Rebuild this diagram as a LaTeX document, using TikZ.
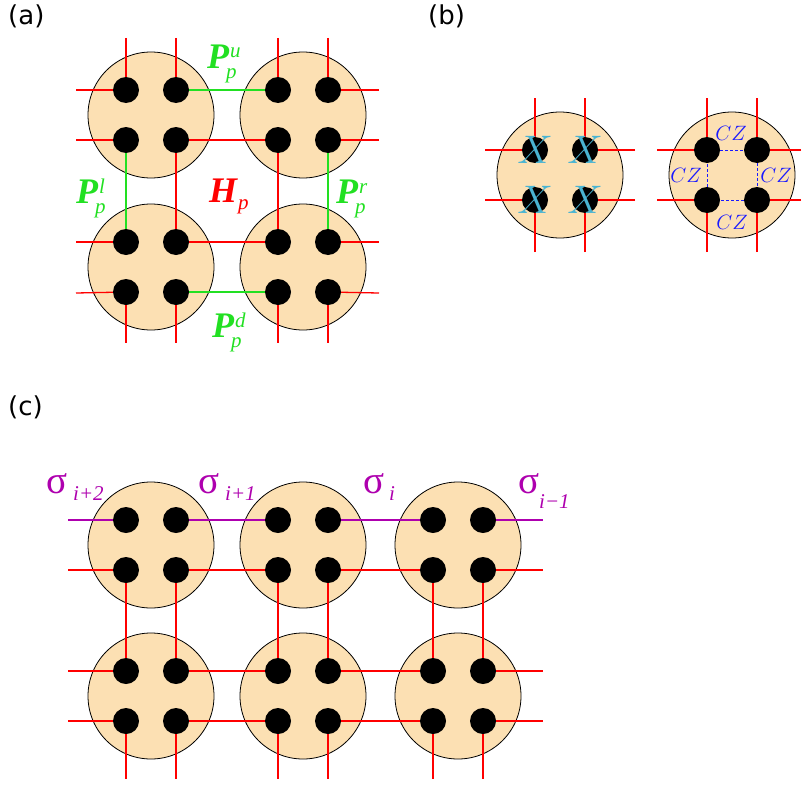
\documentclass[tikz,border=0pt]{standalone}
\usepackage{graphicx}
\usepackage{fontspec}
\setmainfont{Liberation Serif}
\setsansfont{DejaVu Sans}
\definecolor{QDisk}{HTML}{FCE0B3}
\definecolor{QGreen}{HTML}{22E022}
\definecolor{QPurple}{HTML}{AE00AE}
\definecolor{QCyan}{HTML}{4AB4D2}
\definecolor{QBlue}{HTML}{1A1AFF}
\newcommand{\qsmall}{\fontsize{21}{21}\selectfont}
\newcommand{\qsub}{\fontsize{21}{21}\selectfont\itshape}
% big letter with upper and lower index
\newcommand{\qlab}[3]{#1\rlap{\kern1pt\raisebox{10pt}{\qsmall\mdseries #2}}\kern-3pt\raisebox{-10pt}{\qsmall\mdseries #3}}
% one site: disk with four qubits
\newcommand{\qcluster}[3]{%
  \node[qdisk] (#1) at (#2,#3) {};
  \node[qdot] (#1-1) at (#2-25,#3-25) {};
  \node[qdot] (#1-2) at (#2+25,#3-25) {};
  \node[qdot] (#1-3) at (#2-25,#3+25) {};
  \node[qdot] (#1-4) at (#2+25,#3+25) {};
}
\tikzset{
  qdisk/.style={circle,draw=black,fill=QDisk,line width=0.8pt,
    minimum size=126pt,inner sep=0pt},
  qdot/.style={circle,fill=black,minimum size=26pt,inner sep=0pt},
  qbond/.style={draw=red,line width=1.3pt},
  qproj/.style={draw=QGreen,line width=1.3pt},
  qleg/.style={draw=red,line width=1.6pt},
  qlink/.style={draw=red,line width=2.2pt},
  qchain/.style={draw=QPurple,line width=2.2pt},
  qcz/.style={draw=QBlue,densely dashed,line width=0.8pt},
  qtag/.style={font=\sffamily\fontsize{26}{26}\selectfont,anchor=base west,
    inner sep=0pt},
  qop/.style={font=\fontsize{36}{36}\selectfont\bfseries\itshape,
    anchor=base west,inner sep=0pt},
  qx/.style={text=QCyan,font=\fontsize{24}{24}\selectfont,inner sep=0pt},
  qczlab/.style={text=QBlue,font=\fontsize{22}{22}\selectfont,inner sep=0pt},
  qsig/.style={text=QPurple,font=\fontsize{39}{39}\selectfont,
    anchor=base west,inner sep=0pt}
}

\begin{document}
\begin{tikzpicture}[x=1pt,y=-1pt]
  \useasboundingbox (0,0) rectangle (802,784);

  \node[qtag] (tagA) at (8,25) {(a)};
  \node[qtag] (tagB) at (428,25) {(b)};
  \node[qtag] (tagC) at (8,415) {(c)};

  % (a) plaquette
  \qcluster{aNW}{151}{115}
  \qcluster{aNE}{303}{115}
  \qcluster{aSW}{151}{267}
  \qcluster{aSE}{303}{267}

  \coordinate (aW1) at (76,90);   \coordinate (aE1) at (379,90);
  \coordinate (aW2) at (76,140);  \coordinate (aE2) at (379,140);
  \coordinate (aW3) at (76,242);  \coordinate (aE3) at (379,242);
  \coordinate (aW4) at (76,293);  \coordinate (aE4) at (379,293);
  \coordinate (aN1) at (126,38);  \coordinate (aS1) at (126,343);
  \coordinate (aN2) at (176,38);  \coordinate (aS2) at (176,343);
  \coordinate (aN3) at (278,38);  \coordinate (aS3) at (278,343);
  \coordinate (aN4) at (328,38);  \coordinate (aS4) at (328,343);

  \draw[qbond] (aW1) -- (aNW-1);
  \draw[qproj] (aNW-2) -- (aNE-1);
  \draw[qbond] (aNE-2) -- (aE1);
  \draw[qbond] (aW2) -- (aNW-3);
  \draw[qbond] (aNW-4) -- (aNE-3);
  \draw[qbond] (aNE-4) -- (aE2);
  \draw[qbond] (aW3) -- (aSW-1);
  \draw[qbond] (aSW-2) -- (aSE-1);
  \draw[qbond] (aSE-2) -- (aE3);
  \draw[qbond] (aW4) -- (aSW-3);
  \draw[qproj] (aSW-4) -- (aSE-3);
  \draw[qbond] (aSE-4) -- (aE4);

  \draw[qbond] (aN1) -- (aNW-1);
  \draw[qproj] (aNW-3) -- (aSW-1);
  \draw[qbond] (aSW-3) -- (aS1);
  \draw[qbond] (aN2) -- (aNW-2);
  \draw[qbond] (aNW-4) -- (aSW-2);
  \draw[qbond] (aSW-4) -- (aS2);
  \draw[qbond] (aN3) -- (aNE-1);
  \draw[qbond] (aNE-3) -- (aSE-1);
  \draw[qbond] (aSE-3) -- (aS3);
  \draw[qbond] (aN4) -- (aNE-2);
  \draw[qproj] (aNE-4) -- (aSE-2);
  \draw[qbond] (aSE-4) -- (aS4);

  \node[qop,text=QGreen] (Pu) at (207,68) {\qlab{P}{u}{p}};
  \node[qop,text=QGreen] (Pl) at (76,203) {\qlab{P}{l}{p}};
  \node[qop,text=QGreen] (Pr) at (336,203) {\qlab{P}{r}{p}};
  \node[qop,text=QGreen] (Pd) at (212,337) {\qlab{P}{d}{p}};
  \node[qop,text=red] (Hp) at (209,202)
    {H\kern1pt\raisebox{-7pt}{\qsmall\mdseries p}};

  % (b) single-site operators
  \qcluster{bX}{560}{175}
  \qcluster{bC}{732}{175}

  \foreach \s/\r in {bX/50,bC/44} {
    \coordinate (\s-w1) at ([xshift=-50pt]\s-1.center);
    \coordinate (\s-w3) at ([xshift=-50pt]\s-3.center);
    \coordinate (\s-e2) at ([xshift=\r pt]\s-2.center);
    \coordinate (\s-e4) at ([xshift=\r pt]\s-4.center);
    \coordinate (\s-n1) at ([yshift=52pt]\s-1.center);
    \coordinate (\s-n2) at ([yshift=52pt]\s-2.center);
    \coordinate (\s-s3) at ([yshift=-52pt]\s-3.center);
    \coordinate (\s-s4) at ([yshift=-52pt]\s-4.center);
    \draw[qleg] (\s-w1) -- (\s-1);
    \draw[qleg] (\s-w3) -- (\s-3);
    \draw[qleg] (\s-e2) -- (\s-2);
    \draw[qleg] (\s-e4) -- (\s-4);
    \draw[qleg] (\s-n1) -- (\s-1);
    \draw[qleg] (\s-n2) -- (\s-2);
    \draw[qleg] (\s-s3) -- (\s-3);
    \draw[qleg] (\s-s4) -- (\s-4);
  }

  \foreach \d in {1,...,4}
    \node[qx] (bX-x\d) at (bX-\d) {\scalebox{1.6}{$X$}};

  \draw[qcz] (bC-1) -- (bC-2);
  \draw[qcz] (bC-2) -- (bC-4);
  \draw[qcz] (bC-4) -- (bC-3);
  \draw[qcz] (bC-3) -- (bC-1);
  \node[qczlab] (czU) at (731,133) {$CZ$};
  \node[qczlab] (czL) at (686,175) {$CZ$};
  \node[qczlab] (czR) at (776,175) {$CZ$};
  \node[qczlab] (czD) at (732,222) {$CZ$};

  % (c) two rows of sites
  \qcluster{c11}{151}{545}
  \qcluster{c12}{303}{545}
  \qcluster{c13}{458}{545}
  \qcluster{c21}{151}{696}
  \qcluster{c22}{303}{696}
  \qcluster{c23}{458}{696}

  \foreach \y/\u in {520/1,570/3} {
    \coordinate (cW1\u) at (68,\y);
    \coordinate (cE1\u) at (543,\y);
  }
  \foreach \y/\u in {671/1,721/3} {
    \coordinate (cW2\u) at (68,\y);
    \coordinate (cE2\u) at (543,\y);
  }

  \draw[qchain] (cW11) -- (c11-1);
  \draw[qchain] (c11-2) -- (c12-1);
  \draw[qchain] (c12-2) -- (c13-1);
  \draw[qchain] (c13-2) -- (cE11);
  \foreach \w/\a/\b in {13/3/4,21/1/2,23/3/4} {
    \pgfmathtruncatemacro{\rw}{\w/10}
    \draw[qlink] (cW\w) -- (c\rw1-\a);
    \draw[qlink] (c\rw1-\b) -- (c\rw2-\a);
    \draw[qlink] (c\rw2-\b) -- (c\rw3-\a);
    \draw[qlink] (c\rw3-\b) -- (cE\w);
  }

  \foreach \k in {1,2,3} {
    \draw[qlink] (c1\k-3) -- (c2\k-1);
    \draw[qlink] (c1\k-4) -- (c2\k-2);
    \coordinate (cS\k a) at ([yshift=-58pt]c2\k-3.center);
    \coordinate (cS\k b) at ([yshift=-58pt]c2\k-4.center);
    \draw[qlink] (c2\k-3) -- (cS\k a);
    \draw[qlink] (c2\k-4) -- (cS\k b);
  }

  \node[qsig] (sig1) at (46,493)
    {σ\kern6pt\raisebox{-7pt}{\qsub i+2}};
  \node[qsig] (sig2) at (198,493)
    {σ\kern6pt\raisebox{-7pt}{\qsub i+1}};
  \node[qsig] (sig3) at (363,493)
    {σ\kern5pt\raisebox{-7pt}{\qsub i}};
  \node[qsig] (sig4) at (518,493)
    {σ\kern0pt\raisebox{-15pt}{\qsub i−1}};
\end{tikzpicture}
\end{document}
